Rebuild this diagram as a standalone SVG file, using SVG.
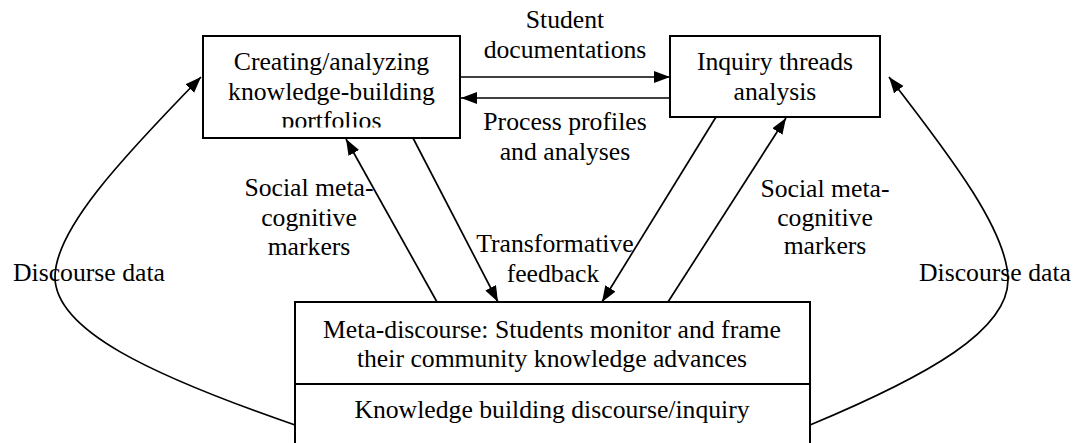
<svg xmlns="http://www.w3.org/2000/svg" width="1075" height="443" viewBox="0 0 1075 443">
<style>
.box{fill:#fff;stroke:#000;stroke-width:2}
.ln{fill:none;stroke:#000;stroke-width:1.7}
text{font-family:"Liberation Serif","Times New Roman",serif;font-size:25.7px;fill:#000;text-anchor:middle}
</style>
<defs>
<marker id="ah" markerUnits="userSpaceOnUse" markerWidth="17" markerHeight="13" refX="16" refY="6" orient="auto">
<path d="M0,0 L16,6 L0,12 z" fill="#000"/>
</marker>
<clipPath id="clipL"><rect x="203" y="36" width="257" height="91.5"/></clipPath>
</defs>
<rect width="1075" height="443" fill="#fff"/>
<g id="connectors">
<path class="ln" d="M295,425 C150,375 55,330 55,277 C55,230 120,160 201,77" marker-end="url(#ah)"/>
<path class="ln" d="M810,425 C930,375 1008,330 1008,280 C1008,233 955,162 889,77" marker-end="url(#ah)"/>
<path class="ln" d="M460,77 L670,77" marker-end="url(#ah)"/>
<path class="ln" d="M670,98 L461,98" marker-end="url(#ah)"/>
<path class="ln" d="M437,302 L346,139" marker-end="url(#ah)"/>
<path class="ln" d="M413,138 L498,302" marker-end="url(#ah)"/>
<path class="ln" d="M716,117 L602,302" marker-end="url(#ah)"/>
<path class="ln" d="M668,302 L786,118" marker-end="url(#ah)"/>
</g>
<g id="labels">
<text x="565" y="28">Student</text>
<text x="565" y="57.5">documentations</text>
<text x="565" y="130">Process profiles</text>
<text x="565" y="159.5">and analyses</text>
<text x="309" y="196">Social meta-</text>
<text x="309" y="226">cognitive</text>
<text x="309" y="255">markers</text>
<text x="825" y="197">Social meta-</text>
<text x="825" y="226">cognitive</text>
<text x="825" y="254">markers</text>
<text x="555" y="252">Transformative</text>
<text x="553" y="282">feedback</text>
<text x="89" y="281">Discourse data</text>
<text x="995" y="281">Discourse data</text>
</g>
<g id="node-portfolios">
<rect class="box" x="203" y="36" width="257" height="102"/>
<g clip-path="url(#clipL)">
<text x="331.5" y="70">Creating/analyzing</text>
<text x="331.5" y="99.5">knowledge-building</text>
<text x="331.5" y="129">portfolios</text>
</g>
</g>
<g id="node-inquiry">
<rect class="box" x="670" y="36" width="210" height="81"/>
<text x="775" y="70">Inquiry threads</text>
<text x="775" y="99.5">analysis</text>
</g>
<g id="node-discourse">
<rect class="box" x="295" y="302" width="515" height="170"/>
<line x1="295" y1="384" x2="810" y2="384" stroke="#000" stroke-width="2"/>
<text x="552" y="338">Meta-discourse: Students monitor and frame</text>
<text x="552" y="367">their community knowledge advances</text>
<text x="552" y="418">Knowledge building discourse/inquiry</text>
</g>
</svg>
